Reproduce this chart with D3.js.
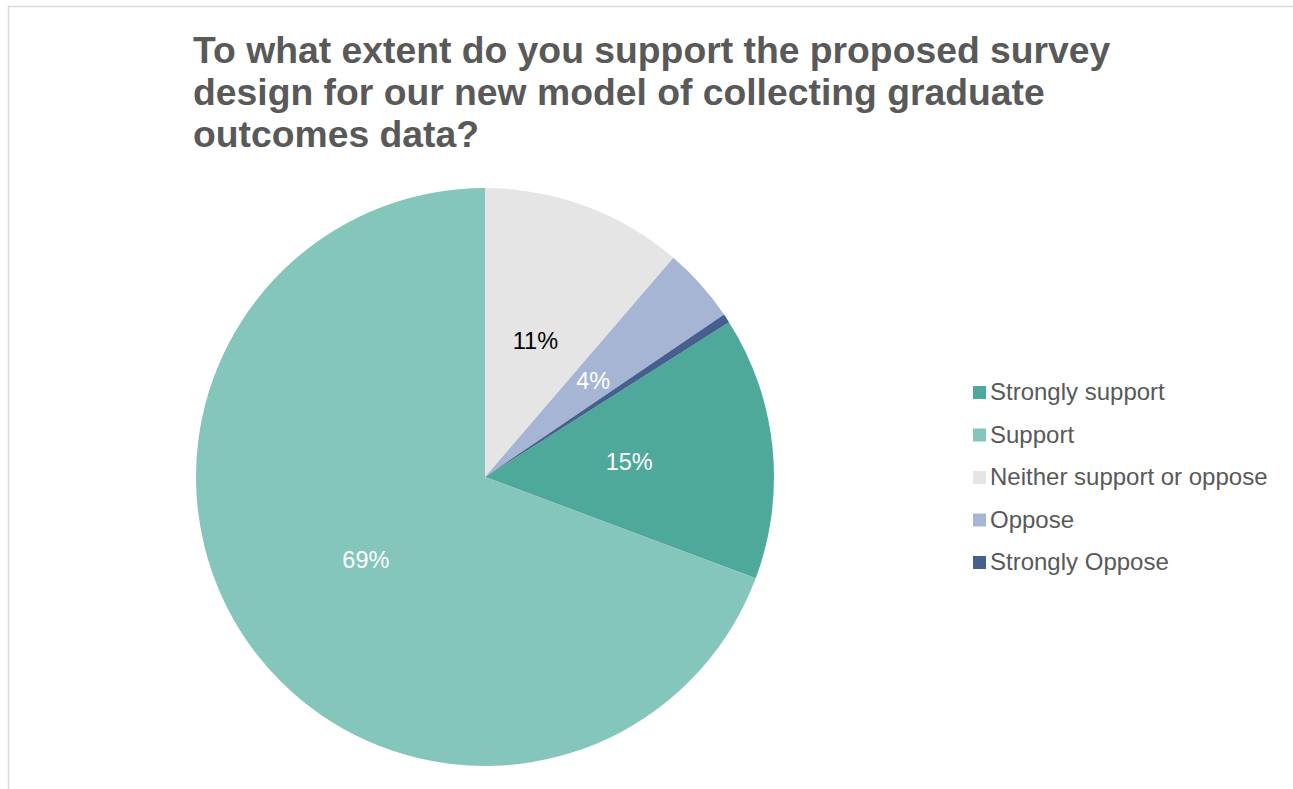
<!DOCTYPE html>
<html><head><meta charset="utf-8">
<script src="https://cdn.jsdelivr.net/npm/d3@7"></script>
<style>body{margin:0;background:#fff;}svg{display:block;font-family:"Liberation Sans",Arial,sans-serif;}</style>
</head><body>
<svg id="c" width="1293" height="789"></svg>
<script>
const categories = ["Strongly support","Support","Neither support or oppose","Oppose","Strongly Oppose"];
const values = [14.7, 69.3, 11.3, 4.2, 0.5];
const labels = ["15%","69%","11%","4%",""];
const colors = ["#4EA99A","#84C6BB","#E5E5E5","#A7B5D5","#45608F"];
const labelColors = ["#ffffff","#ffffff","#000000","#ffffff","#ffffff"];
const titleLines = ["To what extent do you support the proposed survey","design for our new model of collecting graduate","outcomes data?"];

const svg = d3.select("#c");
svg.append("rect").attr("x",8.5).attr("y",6.5).attr("width",1300).attr("height",800)
  .attr("fill","#fff").attr("stroke","#d9d9d9").attr("stroke-width",1.5);

svg.append("g").selectAll("text").data(titleLines).join("text")
  .attr("x",193).attr("y",(d,i)=>62.5+i*42)
  .attr("font-size",37.3).attr("font-weight","bold").attr("fill","#595959").text(d=>d);

const total = d3.sum(values);
const offset = (values[2]+values[3]+values[4])/total*2*Math.PI;
const pie = d3.pie().sort(null).value(d=>d).startAngle(offset).endAngle(offset+2*Math.PI);
const arcs = pie(values);
const r = 289;
const arc = d3.arc().innerRadius(0).outerRadius(r);
const g = svg.append("g").attr("transform","translate(485,477)");
g.selectAll("path").data(arcs).join("path").attr("d",arc).attr("fill",(d,i)=>colors[i]);
const labelArc = d3.arc().innerRadius(145).outerRadius(145);
g.selectAll("text").data(arcs).join("text")
  .attr("transform",(d,i)=>{const c=labelArc.centroid(d);return `translate(${c[0]},${c[1]})`;})
  .attr("text-anchor","middle").attr("dy","0.35em").attr("font-size",23.5)
  .attr("fill",(d,i)=>labelColors[i]).text((d,i)=>labels[i]);

const leg = svg.append("g").attr("transform","translate(973,392)");
const li = leg.selectAll("g").data(categories).join("g").attr("transform",(d,i)=>`translate(0,${i*42.5})`);
li.append("rect").attr("x",0).attr("y",-6).attr("width",13).attr("height",13).attr("fill",(d,i)=>colors[i]);
li.append("text").attr("x",17).attr("y",0).attr("dy","0.35em").attr("font-size",24).attr("fill","#595959").text(d=>d);
</script>
</body></html>
